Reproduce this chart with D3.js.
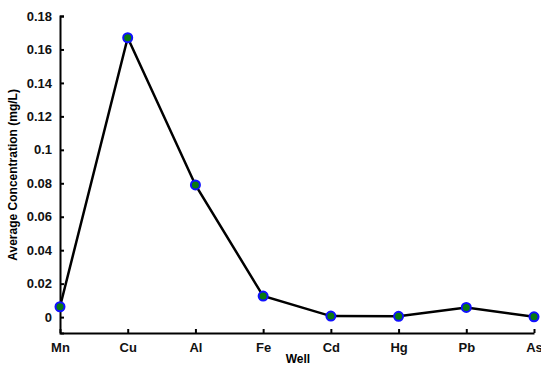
<!DOCTYPE html>
<html>
<head>
<meta charset="utf-8">
<script src="https://cdn.jsdelivr.net/npm/d3@7"></script>
<style>
  body { margin: 0; background: #fff; }
  text { font-family: "Liberation Sans", Arial, sans-serif; font-weight: bold; }
</style>
</head>
<body>
<div id="root"></div>
<script>
// data
var wells = ['Mn', 'Cu', 'Al', 'Fe', 'Cd', 'Hg', 'Pb', 'As']
var concentration = [0.0062, 0.167, 0.079, 0.0126, 0.0006, 0.0005, 0.0058, 0.0002]
var yTicks = [0, 0.02, 0.04, 0.06, 0.08, 0.1, 0.12, 0.14, 0.16, 0.18]

var width = 541, height = 365
var marginLeft = 60, marginTop = 16, marginRight = 7, marginBottom = 32

var svg = d3.select('#root').append('svg')
    .attr('width', width)
    .attr('height', height)

var X = d3.scalePoint()
    .domain(wells)
    .range([marginLeft, width - marginRight])
var Y = d3.scaleLinear()
    .domain([-0.0095, 0.18])
    .range([height - marginBottom, marginTop])

// y axis, ticks pointing inward
var yAxis = svg.append('g')
    .attr('transform', 'translate(' + marginLeft + ',0)')
    .call(d3.axisLeft(Y).tickValues(yTicks).tickSizeInner(-4).tickSizeOuter(-4).tickPadding(8)
        .tickFormat(function (d) { return d3.format('~g')(d) }))
var xAxis = svg.append('g')
    .attr('transform', 'translate(0,' + (height - marginBottom) + ')')
    .call(d3.axisBottom(X).tickSizeInner(-4).tickSizeOuter(0).tickPadding(10))

;[yAxis, xAxis].forEach(function (g) {
    g.select('.domain').attr('stroke', '#000').attr('stroke-width', 2)
    g.selectAll('.tick line').attr('stroke', '#000').attr('stroke-width', 2)
    g.selectAll('.tick text').attr('fill', '#111').style('font-size', '13px')
})

// labels
svg.append('text')
    .attr('x', X('Cd') - 33)
    .attr('y', 363)
    .attr('text-anchor', 'middle')
    .style('font-size', '12px')
    .text('Well')
svg.append('text')
    .attr('transform', 'translate(17,' + Y(0.085) + ') rotate(-90)')
    .attr('text-anchor', 'middle')
    .style('font-size', '12px')
    .text('Average Concentration (mg/L)')

var pts = wells.map(function (w, i) { return [w, concentration[i]] })

svg.append('path')
    .datum(pts)
    .attr('fill', 'none')
    .attr('stroke', '#000')
    .attr('stroke-width', 2.5)
    .attr('d', d3.line().x(function (d) { return X(d[0]) }).y(function (d) { return Y(d[1]) }))

svg.selectAll('circle.pt')
    .data(pts)
    .enter()
    .append('circle')
    .attr('class', 'pt')
    .attr('cx', function (d) { return X(d[0]) })
    .attr('cy', function (d) { return Y(d[1]) })
    .attr('r', 4.5)
    .attr('fill', '#0a7a10')
    .attr('stroke', '#1010ff')
    .attr('stroke-width', 2)
</script>
</body>
</html>
